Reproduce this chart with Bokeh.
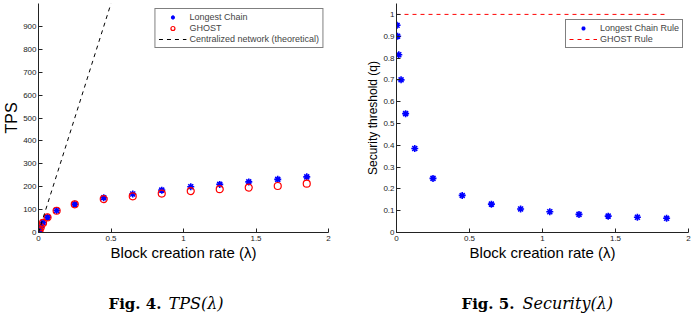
from bokeh.plotting import figure
from bokeh.layouts import row, column
from bokeh.models import Legend, LegendItem, Label, FixedTicker
from bokeh.embed import file_html
from bokeh.resources import INLINE

# Block creation rate (blocks per second)
rate = [0.00390625, 0.0078125, 0.015625, 0.03125, 0.0625, 0.125, 0.25,
        0.45, 0.65, 0.85, 1.05, 1.25, 1.45, 1.65, 1.85]

# Throughput (transactions per second)
tps_longest = [6, 12, 23, 43, 67, 96, 124, 152, 168, 185, 200, 210, 221, 232, 243]
tps_ghost = [6, 12, 23, 42, 66, 95, 123, 146, 158, 170, 181, 189, 196, 203, 213]

# Theoretical throughput of a centralized network
central_rate = [0.0, 0.5]
central_tps = [0, 1000]

# Security threshold q
security_longest = [0.95, 0.90, 0.815, 0.70, 0.545, 0.385, 0.248, 0.17,
                    0.13, 0.108, 0.095, 0.083, 0.075, 0.07, 0.065]
ghost_rate = [0.0, 1.85]
security_ghost = [1.0, 1.0]

x_ticks = [0, 0.5, 1, 1.5, 2]
tps_ticks = [0, 100, 200, 300, 400, 500, 600, 700, 800, 900]
q_ticks = [0, 0.1, 0.2, 0.3, 0.4, 0.5, 0.6, 0.7, 0.8, 0.9, 1]

SANS = "Liberation Sans"
SERIF = "DejaVu Serif"
BLUE = "#0000ff"
RED = "#ff0000"


def style_axes(p, ylabel, ylabel_size):
    p.grid.visible = False
    p.outline_line_color = None
    p.background_fill_color = None
    p.border_fill_color = "white"
    for ax in (p.xaxis[0], p.yaxis[0]):
        ax.major_tick_in = 4
        ax.major_tick_out = 0
        ax.minor_tick_line_color = None
        ax.major_label_text_font = SANS
        ax.major_label_text_font_size = "8px"
        ax.major_label_text_color = "#222222"
        ax.axis_line_color = "#222222"
        ax.major_tick_line_color = "#222222"
        ax.axis_label_text_font = SANS
        ax.axis_label_text_font_style = "normal"
        ax.axis_label_text_color = "black"
    p.xaxis.axis_label = "Block creation rate (λ)"
    p.xaxis.axis_label_text_font_size = "15px"
    p.xaxis.axis_label_standoff = 0
    p.xaxis.major_label_standoff = 3
    p.xaxis.ticker = FixedTicker(ticks=x_ticks)
    p.yaxis.axis_label = ylabel
    p.yaxis.axis_label_text_font_size = ylabel_size
    p.yaxis.axis_label_standoff = 0
    p.yaxis.major_label_standoff = 2


def style_legend(leg, loc, margin=0):
    leg.location = loc
    leg.label_text_font = SANS
    leg.label_text_font_size = "9px"
    leg.label_height = 10
    leg.glyph_height = 10
    leg.glyph_width = 28
    leg.label_standoff = 3
    leg.spacing = 1
    leg.padding = 3
    leg.margin = margin
    leg.border_line_color = "black"
    leg.border_line_width = 1.2
    leg.background_fill_alpha = 1


# ---- Fig. 4: throughput ----
p1 = figure(width=348, height=282, x_range=(0, 2), y_range=(0, 1000),
            output_backend="svg", toolbar_location=None,
            min_border_left=34, min_border_right=20, min_border_top=3, min_border_bottom=49)
style_axes(p1, "TPS", "16px")
p1.yaxis.ticker = FixedTicker(ticks=tps_ticks)

r_lc = p1.scatter(rate, tps_longest, marker="asterisk", size=7, line_width=1.6, color=BLUE)
r_gh = p1.scatter(rate, tps_ghost, marker="circle", size=7, line_width=1.2,
                  line_color=RED, fill_color=None)
r_c = p1.line(central_rate, central_tps, line_dash="4 4", line_color="black", line_width=1)

leg1 = Legend(items=[LegendItem(label="Longest Chain", renderers=[r_lc]),
                     LegendItem(label="GHOST", renderers=[r_gh]),
                     LegendItem(label="Centralized network (theoretical)", renderers=[r_c])])
style_legend(leg1, "top_right", margin=5)
p1.add_layout(leg1)

# ---- Fig. 5: security threshold ----
p2 = figure(width=348, height=282, x_range=(0, 2), y_range=(0, 1.05),
            output_backend="svg", toolbar_location=None,
            min_border_left=48, min_border_right=8, min_border_top=2, min_border_bottom=50)
style_axes(p2, "Security threshold (q)", "12px")
p2.yaxis.ticker = FixedTicker(ticks=q_ticks)

r_lcr = p2.scatter(rate, security_longest, marker="asterisk", size=7, line_width=1.6, color=BLUE)
r_gr = p2.line(ghost_rate, security_ghost, line_dash="4 4", line_color=RED, line_width=1)

leg2 = Legend(items=[LegendItem(label="Longest Chain Rule", renderers=[r_lcr]),
                     LegendItem(label="GHOST Rule", renderers=[r_gr])])
style_legend(leg2, (169, 184))
p2.add_layout(leg2)

# ---- Figure captions ----
cap = figure(width=696, height=40, x_range=(0, 696), y_range=(40, 0),
             output_backend="svg", toolbar_location=None,
             min_border=0, outline_line_color=None)
cap.axis.visible = False
cap.grid.visible = False


def caption(x_bold, x_ital, bold, italic):
    cap.add_layout(Label(x=x_bold, y=21, text=bold, text_font=SERIF, text_font_style="bold",
                         text_font_size="15px", text_color="black", text_baseline="middle"))
    cap.add_layout(Label(x=x_ital, y=21, text=italic, text_font=SERIF, text_font_style="italic",
                         text_font_size="16px", text_color="black", text_baseline="middle"))


caption(108, 168, "Fig. 4.", "TPS(λ)")
caption(461, 522, "Fig. 5.", "Security(λ)")

layout = column(row(p1, p2), cap, spacing=0)
open("out.html", "w").write(file_html(layout, INLINE))
